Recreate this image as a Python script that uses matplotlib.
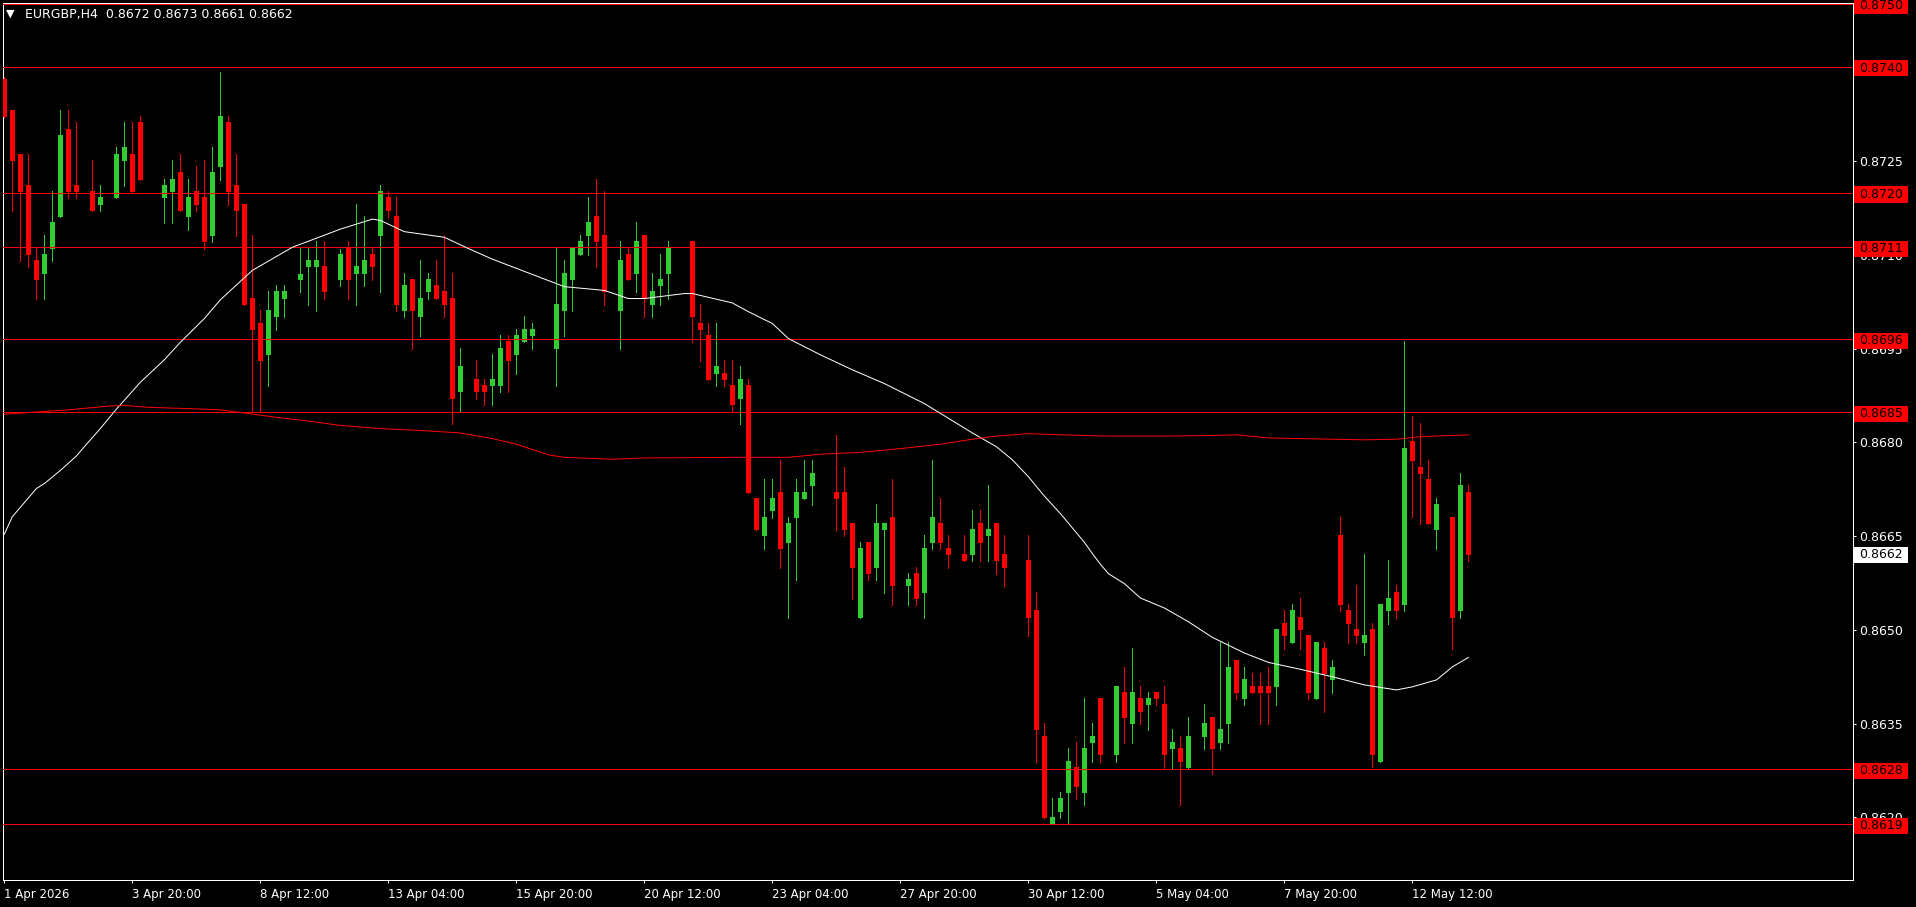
import matplotlib
matplotlib.use('Agg')
import matplotlib.pyplot as plt
from matplotlib.patches import Rectangle
from matplotlib.transforms import blended_transform_factory
import numpy as np

# EURGBP H4, una vela por fila de 10
opens = [
    0.87381, 0.87332, 0.87261, 0.87212, 0.87092, 0.87070, 0.87110, 0.87161, 0.87301, 0.87212,
    0.87200, 0.87202, 0.87180, 0.87195, 0.87191, 0.87250, 0.87261, 0.87312, 0.87200, 0.87200,
    0.87191, 0.87201, 0.87232, 0.87161, 0.87202, 0.87192, 0.87130, 0.87241, 0.87312, 0.87212,
    0.87181, 0.87031, 0.86991, 0.86940, 0.87001, 0.87030, 0.87042, 0.87060, 0.87080, 0.87080,
    0.87082, 0.87050, 0.87060, 0.87112, 0.87069, 0.87069, 0.87101, 0.87130, 0.87192, 0.87162,
    0.87010, 0.87061, 0.87001, 0.87041, 0.87051, 0.87042, 0.87031, 0.86881, 0.86910, 0.86901,
    0.86892, 0.86890, 0.86890, 0.86962, 0.86940, 0.86961, 0.86970, 0.86965, 0.86965, 0.86949,
    0.87010, 0.87060, 0.87100, 0.87130, 0.87162, 0.87132, 0.87030, 0.87010, 0.87101, 0.87069,
    0.87132, 0.87020, 0.87050, 0.87069, 0.87112, 0.87112, 0.87122, 0.86991, 0.86972, 0.86909,
    0.86911, 0.86892, 0.86869, 0.86892, 0.86711, 0.86650, 0.86690, 0.86721, 0.86639, 0.86679,
    0.86710, 0.86730, 0.86750, 0.86750, 0.86721, 0.86721, 0.86671, 0.86519, 0.86640, 0.86599,
    0.86660, 0.86680, 0.86575, 0.86570, 0.86591, 0.86559, 0.86639, 0.86671, 0.86631, 0.86620,
    0.86621, 0.86620, 0.86671, 0.86650, 0.86671, 0.86621, 0.86605, 0.86610, 0.86612, 0.86532,
    0.86330, 0.86189, 0.86208, 0.86239, 0.86280, 0.86239, 0.86319, 0.86391, 0.86300, 0.86300,
    0.86400, 0.86350, 0.86391, 0.86380, 0.86400, 0.86381, 0.86310, 0.86311, 0.86279, 0.86330,
    0.86329, 0.86360, 0.86319, 0.86350, 0.86452, 0.86390, 0.86410, 0.86410, 0.86410, 0.86409,
    0.86511, 0.86479, 0.86520, 0.86492, 0.86390, 0.86471, 0.86420, 0.86652, 0.86532, 0.86501,
    0.86479, 0.86501, 0.86289, 0.86530, 0.86560, 0.86540, 0.86802, 0.86760, 0.86741, 0.86660,
    0.86680, 0.86680, 0.86530, 0.86720,
]
highs = [
    0.87385, 0.87332, 0.87261, 0.87261, 0.87112, 0.87132, 0.87202, 0.87332, 0.87332, 0.87312,
    0.87205, 0.87252, 0.87212, 0.87200, 0.87272, 0.87312, 0.87312, 0.87322, 0.87205, 0.87205,
    0.87221, 0.87252, 0.87261, 0.87221, 0.87242, 0.87252, 0.87272, 0.87392, 0.87322, 0.87261,
    0.87181, 0.87132, 0.87012, 0.87042, 0.87052, 0.87052, 0.87045, 0.87112, 0.87112, 0.87122,
    0.87122, 0.87055, 0.87110, 0.87122, 0.87181, 0.87162, 0.87112, 0.87212, 0.87202, 0.87192,
    0.87071, 0.87061, 0.87092, 0.87071, 0.87092, 0.87132, 0.87071, 0.86951, 0.86915, 0.86932,
    0.86901, 0.86941, 0.86972, 0.86972, 0.86981, 0.87002, 0.86991, 0.86970, 0.86970, 0.87111,
    0.87092, 0.87111, 0.87132, 0.87192, 0.87221, 0.87202, 0.87035, 0.87122, 0.87111, 0.87152,
    0.87132, 0.87071, 0.87101, 0.87122, 0.87117, 0.87117, 0.87122, 0.87021, 0.86991, 0.86991,
    0.86932, 0.86932, 0.86922, 0.86901, 0.86711, 0.86741, 0.86741, 0.86772, 0.86680, 0.86741,
    0.86772, 0.86772, 0.86755, 0.86755, 0.86812, 0.86761, 0.86671, 0.86640, 0.86640, 0.86701,
    0.86671, 0.86741, 0.86580, 0.86591, 0.86601, 0.86652, 0.86772, 0.86711, 0.86652, 0.86625,
    0.86652, 0.86692, 0.86692, 0.86732, 0.86671, 0.86652, 0.86610, 0.86615, 0.86652, 0.86560,
    0.86351, 0.86231, 0.86240, 0.86311, 0.86320, 0.86391, 0.86351, 0.86391, 0.86305, 0.86410,
    0.86440, 0.86471, 0.86410, 0.86400, 0.86400, 0.86410, 0.86341, 0.86330, 0.86360, 0.86335,
    0.86381, 0.86360, 0.86480, 0.86480, 0.86452, 0.86440, 0.86431, 0.86431, 0.86440, 0.86501,
    0.86532, 0.86541, 0.86551, 0.86492, 0.86480, 0.86480, 0.86452, 0.86680, 0.86541, 0.86572,
    0.86621, 0.86511, 0.86541, 0.86612, 0.86572, 0.86962, 0.86842, 0.86831, 0.86772, 0.86711,
    0.86685, 0.86680, 0.86751, 0.86732,
]
lows = [
    0.87321, 0.87170, 0.87090, 0.87081, 0.87030, 0.87030, 0.87090, 0.87161, 0.87191, 0.87191,
    0.87195, 0.87170, 0.87170, 0.87190, 0.87191, 0.87210, 0.87201, 0.87220, 0.87195, 0.87195,
    0.87151, 0.87151, 0.87170, 0.87140, 0.87170, 0.87110, 0.87121, 0.87220, 0.87180, 0.87130,
    0.87020, 0.86850, 0.86850, 0.86890, 0.86980, 0.87001, 0.87040, 0.87041, 0.87020, 0.87010,
    0.87030, 0.87045, 0.87050, 0.87030, 0.87020, 0.87050, 0.87060, 0.87041, 0.87160, 0.87010,
    0.87001, 0.86950, 0.86970, 0.87030, 0.87030, 0.87001, 0.86830, 0.86850, 0.86905, 0.86870,
    0.86860, 0.86860, 0.86881, 0.86881, 0.86909, 0.86961, 0.86949, 0.86960, 0.86960, 0.86890,
    0.86970, 0.87010, 0.87100, 0.87100, 0.87080, 0.87020, 0.87025, 0.86949, 0.87060, 0.87040,
    0.87000, 0.87000, 0.87020, 0.87029, 0.87107, 0.87107, 0.86960, 0.86930, 0.86900, 0.86890,
    0.86890, 0.86850, 0.86829, 0.86719, 0.86660, 0.86630, 0.86679, 0.86599, 0.86519, 0.86580,
    0.86710, 0.86700, 0.86745, 0.86745, 0.86660, 0.86650, 0.86550, 0.86519, 0.86580, 0.86580,
    0.86559, 0.86540, 0.86570, 0.86540, 0.86540, 0.86519, 0.86630, 0.86630, 0.86599, 0.86615,
    0.86610, 0.86610, 0.86610, 0.86610, 0.86590, 0.86570, 0.86600, 0.86605, 0.86490, 0.86289,
    0.86199, 0.86189, 0.86199, 0.86189, 0.86230, 0.86220, 0.86289, 0.86289, 0.86295, 0.86289,
    0.86319, 0.86319, 0.86350, 0.86340, 0.86380, 0.86279, 0.86279, 0.86220, 0.86279, 0.86325,
    0.86310, 0.86270, 0.86310, 0.86319, 0.86390, 0.86380, 0.86399, 0.86350, 0.86350, 0.86380,
    0.86470, 0.86479, 0.86470, 0.86390, 0.86390, 0.86369, 0.86399, 0.86530, 0.86479, 0.86479,
    0.86460, 0.86280, 0.86289, 0.86510, 0.86519, 0.86530, 0.86680, 0.86670, 0.86670, 0.86630,
    0.86675, 0.86470, 0.86519, 0.86610,
]
closes = [
    0.87321, 0.87250, 0.87201, 0.87100, 0.87060, 0.87101, 0.87152, 0.87292, 0.87201, 0.87201,
    0.87200, 0.87170, 0.87192, 0.87195, 0.87261, 0.87272, 0.87201, 0.87220, 0.87200, 0.87200,
    0.87212, 0.87221, 0.87170, 0.87192, 0.87180, 0.87121, 0.87232, 0.87322, 0.87201, 0.87170,
    0.87020, 0.86980, 0.86930, 0.87012, 0.87042, 0.87042, 0.87042, 0.87070, 0.87092, 0.87092,
    0.87041, 0.87050, 0.87101, 0.87060, 0.87082, 0.87092, 0.87080, 0.87202, 0.87170, 0.87020,
    0.87051, 0.87010, 0.87031, 0.87061, 0.87030, 0.87020, 0.86870, 0.86922, 0.86910, 0.86881,
    0.86881, 0.86901, 0.86951, 0.86930, 0.86972, 0.86981, 0.86981, 0.86965, 0.86965, 0.87021,
    0.87071, 0.87111, 0.87122, 0.87152, 0.87120, 0.87041, 0.87030, 0.87092, 0.87060, 0.87122,
    0.87031, 0.87042, 0.87061, 0.87111, 0.87112, 0.87112, 0.87000, 0.86980, 0.86900, 0.86922,
    0.86900, 0.86860, 0.86901, 0.86719, 0.86660, 0.86680, 0.86711, 0.86630, 0.86671, 0.86721,
    0.86721, 0.86751, 0.86750, 0.86750, 0.86710, 0.86660, 0.86599, 0.86631, 0.86590, 0.86671,
    0.86671, 0.86570, 0.86575, 0.86581, 0.86550, 0.86631, 0.86680, 0.86639, 0.86620, 0.86620,
    0.86610, 0.86661, 0.86639, 0.86661, 0.86610, 0.86599, 0.86605, 0.86610, 0.86519, 0.86340,
    0.86199, 0.86200, 0.86231, 0.86290, 0.86249, 0.86311, 0.86330, 0.86300, 0.86300, 0.86410,
    0.86359, 0.86400, 0.86369, 0.86391, 0.86390, 0.86300, 0.86320, 0.86289, 0.86330, 0.86330,
    0.86351, 0.86310, 0.86341, 0.86440, 0.86399, 0.86421, 0.86399, 0.86399, 0.86399, 0.86501,
    0.86490, 0.86532, 0.86500, 0.86399, 0.86480, 0.86430, 0.86440, 0.86540, 0.86510, 0.86490,
    0.86492, 0.86300, 0.86541, 0.86551, 0.86530, 0.86791, 0.86770, 0.86750, 0.86670, 0.86701,
    0.86680, 0.86519, 0.86732, 0.86620,
]

# medias moviles (indice de vela, precio)
ma_fast_idx = [0, 1, 3, 4, 5, 7, 9, 10, 12, 14, 17, 20, 22, 25, 27, 31, 36, 42, 46, 47,
               50, 55, 58, 61, 70, 75, 78, 80, 85, 86, 91, 93, 96, 98, 102, 106, 110, 115,
               121, 124, 126, 128, 130, 132, 135, 136, 137, 138, 140, 142, 145, 148, 151,
               155, 158, 162, 166, 170, 174, 176, 179, 181, 183]
ma_fast = [0.86653, 0.86681, 0.86711, 0.86726, 0.86734, 0.86755, 0.86778, 0.86793, 0.86822,
           0.86853, 0.86896, 0.86932, 0.86960, 0.86998, 0.87028, 0.87075, 0.87112, 0.87141,
           0.87157, 0.87155, 0.87137, 0.87128, 0.87110, 0.87093, 0.87049, 0.87043, 0.87030,
           0.87030, 0.87038, 0.87038, 0.87023, 0.87009, 0.86990, 0.86966, 0.86940, 0.86916,
           0.86894, 0.86862, 0.86815, 0.86793, 0.86772, 0.86745, 0.86714, 0.86686, 0.86640,
           0.86622, 0.86605, 0.86590, 0.86574, 0.86551, 0.86535, 0.86513, 0.86488, 0.86463,
           0.86448, 0.86437, 0.86425, 0.86412, 0.86404, 0.86409, 0.86420, 0.86441, 0.86456]
ma_slow_idx = [0, 8, 13, 15, 18, 23, 27, 30, 34, 38, 42, 47, 52, 57, 61, 64, 68, 70, 76, 80,
               91, 98, 102, 107, 112, 117, 121, 124, 128, 132, 138, 145, 151, 154, 158, 170,
               174, 177, 183]
ma_slow = [0.86845, 0.86852, 0.86858, 0.86859, 0.86856, 0.86854, 0.86852, 0.86847, 0.86840,
           0.86834, 0.86827, 0.86822, 0.86819, 0.86815, 0.86806, 0.86797, 0.86780, 0.86776,
           0.86773, 0.86775, 0.86776, 0.86776, 0.86781, 0.86784, 0.86790, 0.86797, 0.86805,
           0.86810, 0.86814, 0.86812, 0.86810, 0.86810, 0.86811, 0.86812, 0.86807, 0.86804,
           0.86805, 0.86809, 0.86812]

# lineas horizontales y sus etiquetas
level_prices = [0.87501, 0.87401, 0.87199, 0.87112, 0.86965, 0.86848, 0.86277, 0.86189]
level_labels = ['0.8750', '0.8740', '0.8720', '0.8711', '0.8696', '0.8685', '0.8628', '0.8619']

ytick_vals = [0.8740, 0.8725, 0.8710, 0.8695, 0.8680, 0.8665, 0.8650, 0.8635, 0.8620]
xtick_idx = [0, 16, 32, 48, 64, 80, 96, 112, 128, 144, 160, 176]
xtick_labels = ['1 Apr 2026', '3 Apr 20:00', '8 Apr 12:00', '13 Apr 04:00', '15 Apr 20:00',
                '20 Apr 12:00', '23 Apr 04:00', '27 Apr 20:00', '30 Apr 12:00', '5 May 04:00',
                '7 May 20:00', '12 May 12:00']

bid_price = 0.8662
title_text = 'EURGBP,H4  0.8672 0.8673 0.8661 0.8662'

W, H = 1916, 907
GREEN = '#32CD32'
RED = '#FF0000'
PX = 0.72  # 1 pixel en puntos


def main():
    fig = plt.figure(figsize=(W / 100, H / 100), dpi=100, facecolor='black')
    ax = fig.add_axes([2.5 / W, 1 - 880.3 / H, 1850 / W, 877.6 / H])
    ax.set_facecolor('black')

    o = np.array(opens)
    c = np.array(closes)
    idx = np.arange(len(o))
    colors = np.where(c > o, GREEN, np.where(c < o, RED, 'black'))

    # velas
    ax.vlines(idx, lows, highs, colors=colors, linewidth=PX, antialiased=False, zorder=2)
    ax.bar(idx, c - o, bottom=o, width=0.625, color=colors, linewidth=0,
           antialiased=False, zorder=3)

    # medias moviles
    ax.plot(ma_fast_idx, ma_fast, color='white', linewidth=PX, zorder=5)
    ax.plot(ma_slow_idx, ma_slow, color=RED, linewidth=PX, zorder=5)

    for p in level_prices:
        ax.axhline(p, color=RED, linewidth=PX, antialiased=False, zorder=4)

    ax.set_xlim(-0.225, 231.0)
    ax.set_ylim(0.860995, 0.875032)

    for s in ax.spines.values():
        s.set_color('white')
        s.set_linewidth(PX)

    ax.yaxis.tick_right()
    ax.set_yticks(ytick_vals)
    ax.set_yticklabels([f'{v:.4f}' for v in ytick_vals])
    ax.tick_params(axis='y', colors='white', direction='out', length=2.2, width=PX,
                   pad=2.5, labelsize=9)

    ax.set_xticks(xtick_idx)
    ax.set_xticklabels(xtick_labels)
    ax.tick_params(axis='x', colors='white', direction='out', length=2.2, width=PX,
                   pad=3.5, labelsize=8.5)
    for lbl in ax.get_xticklabels():
        lbl.set_horizontalalignment('left')

    # etiquetas de precio en el eje derecho
    trans = blended_transform_factory(fig.transFigure, ax.transData)
    hbox = 16.3 / 62520
    for p, txt in zip(level_prices, level_labels):
        yc = p - 1.5 / 62520
        ax.add_patch(Rectangle((1854 / W, yc - hbox / 2), 54 / W, hbox, transform=trans,
                               facecolor=RED, edgecolor='none', clip_on=False, zorder=10))
        ax.text(1859 / W, yc, txt, transform=trans, color='black', fontsize=9,
                va='center', ha='left', clip_on=False, zorder=11)
    ax.add_patch(Rectangle((1854 / W, bid_price - hbox / 2), 54 / W, hbox, transform=trans,
                           facecolor='white', edgecolor='none', clip_on=False, zorder=10))
    ax.text(1859 / W, bid_price, f'{bid_price:.4f}', transform=trans, color='black',
            fontsize=9, va='center', ha='left', clip_on=False, zorder=11)

    # titulo
    fig.text(6 / W, 1 - 14 / H, '▼', color='white', fontsize=8, va='center', ha='left')
    fig.text(25 / W, 1 - 14.5 / H, title_text, color='white', fontsize=9,
             va='center', ha='left')

    fig.savefig('out.png', dpi=100, facecolor='black')


if __name__ == '__main__':
    main()
